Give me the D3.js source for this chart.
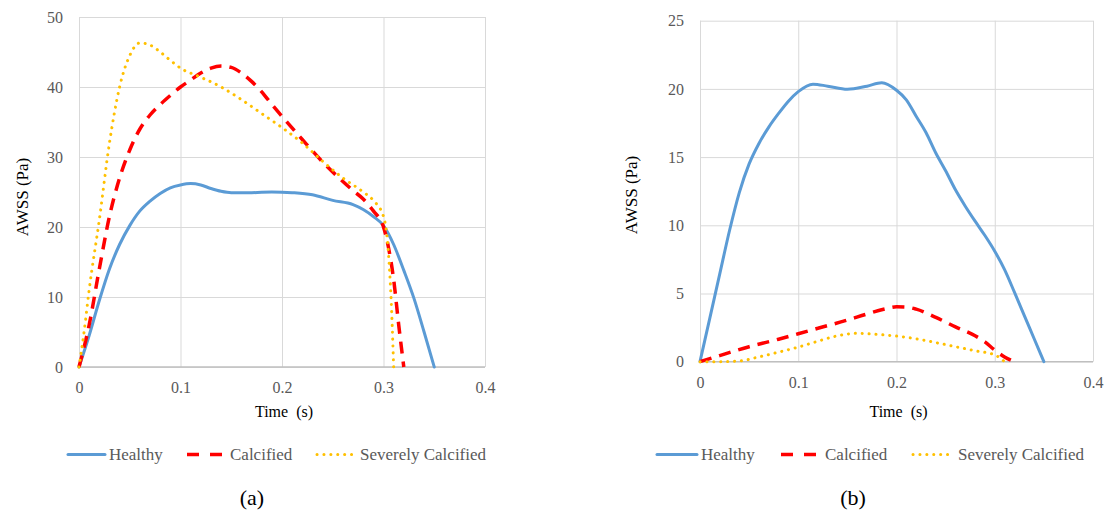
<!DOCTYPE html>
<html>
<head>
<meta charset="utf-8">
<script src="https://cdn.jsdelivr.net/npm/d3@7"></script>
<style>
  body { margin: 0; background: #fff; }
</style>
</head>
<body>
<svg id="chart" width="1109" height="516"></svg>
<script>
// ---- data ----
const xTicks = [0, 0.1, 0.2, 0.3, 0.4]
const yTicksA = [0, 10, 20, 30, 40, 50]
const yTicksB = [0, 5, 10, 15, 20, 25]
const seriesNames = ['Healthy', 'Calcified', 'Severely Calcified']

// panel (a)
const tHealthyA = [0, 0.01, 0.02, 0.03, 0.04, 0.05, 0.06, 0.07, 0.08, 0.09, 0.1, 0.11, 0.12, 0.13, 0.14, 0.15, 0.17, 0.19, 0.21, 0.23, 0.25, 0.27, 0.28, 0.29, 0.3, 0.31, 0.32, 0.33, 0.34, 0.35]
const vHealthyA = [0, 4.5, 9.5, 14, 17.5, 20.2, 22.3, 23.7, 24.8, 25.6, 26, 26.2, 26, 25.5, 25.1, 24.9, 24.9, 25, 24.9, 24.6, 23.8, 23.2, 22.5, 21.5, 20.2, 17.5, 13.8, 9.8, 5, 0]
const tCalcA = [0, 0.01, 0.02, 0.03, 0.04, 0.05, 0.06, 0.07, 0.08, 0.09, 0.1, 0.11, 0.12, 0.13, 0.14, 0.15, 0.16, 0.17, 0.18, 0.19, 0.2, 0.22, 0.24, 0.26, 0.27, 0.28, 0.29, 0.3, 0.305, 0.31, 0.315, 0.32]
const vCalcA = [0, 6, 14, 21.5, 27, 31, 34, 36, 37.5, 38.8, 40, 41, 42, 42.7, 43, 42.8, 42, 40.8, 39.3, 37.5, 35.8, 32.5, 29.3, 26.5, 25.2, 24, 22.3, 20, 17, 12.5, 6, 0]
const tSevA = [0, 0.005, 0.01, 0.02, 0.03, 0.04, 0.05, 0.06, 0.07, 0.08, 0.09, 0.1, 0.12, 0.14, 0.16, 0.18, 0.2, 0.22, 0.24, 0.26, 0.28, 0.29, 0.3, 0.305, 0.308, 0.31]
const vSevA = [0, 5, 11, 21, 32, 40, 44.5, 46.3, 46, 45, 43.8, 42.7, 41.4, 40, 38.2, 36.2, 34.2, 32, 29.4, 27, 25, 23.8, 21.5, 16, 8, 0]

// panel (b)
const tHealthyB = [0, 0.01, 0.02, 0.03, 0.04, 0.05, 0.06, 0.07, 0.08, 0.09, 0.1, 0.115, 0.13, 0.15, 0.17, 0.185, 0.2, 0.21, 0.22, 0.23, 0.24, 0.25, 0.26, 0.27, 0.28, 0.29, 0.3, 0.31, 0.32, 0.33, 0.34, 0.35]
const vHealthyB = [0, 3.2, 6.4, 9.6, 12.4, 14.5, 16.0, 17.2, 18.2, 19.1, 19.8, 20.35, 20.2, 19.97, 20.2, 20.45, 19.9, 19.2, 18.0, 16.8, 15.3, 14.0, 12.6, 11.4, 10.3, 9.25, 8.1, 6.75, 5.1, 3.4, 1.7, 0]
const tCalcB = [0, 0.02, 0.05, 0.08, 0.1, 0.12, 0.15, 0.17, 0.19, 0.2, 0.21, 0.22, 0.24, 0.26, 0.28, 0.29, 0.3, 0.31, 0.32]
const vCalcB = [0, 0.45, 1.1, 1.65, 2.05, 2.45, 3.05, 3.5, 3.9, 4.02, 4.0, 3.85, 3.25, 2.55, 1.9, 1.45, 0.85, 0.35, 0]
const tSevB = [0, 0.02, 0.04, 0.06, 0.08, 0.1, 0.12, 0.14, 0.16, 0.18, 0.2, 0.22, 0.24, 0.26, 0.28, 0.3, 0.31]
const vSevB = [0, 0, 0.05, 0.35, 0.7, 1.07, 1.5, 1.9, 2.08, 2.0, 1.88, 1.68, 1.4, 1.1, 0.8, 0.5, 0]

const FONT = "'Liberation Serif', 'DejaVu Serif', serif"

const styles = [
  { color: '#5b9bd5', width: 3, dash: null, cap: 'round' },
  { color: '#ff0000', width: 3.5, dash: '12,8', cap: 'butt' },
  { color: '#ffc000', width: 3, dash: '0.1,6.8', cap: 'round' }
]

const svg = d3.select('#chart').attr('font-family', FONT)

function drawPanel(cfg) {
  const x = d3.scaleLinear().domain([0, 0.4]).range([cfg.left, cfg.right])
  const y = d3.scaleLinear().domain([0, cfg.yMax]).range([cfg.bottom, cfg.top])
  const g = svg.append('g')

  // gridlines
  g.append('g')
    .attr('transform', `translate(${cfg.left},0)`)
    .call(d3.axisLeft(y).tickValues(cfg.yTicks).tickSize(-(cfg.right - cfg.left)).tickFormat(''))
    .call(a => a.select('.domain').remove())
    .selectAll('line').attr('stroke', '#d9d9d9')
  g.append('g')
    .attr('transform', `translate(0,${cfg.bottom})`)
    .call(d3.axisBottom(x).tickValues(xTicks).tickSize(-(cfg.bottom - cfg.top)).tickFormat(''))
    .call(a => a.select('.domain').remove())
    .selectAll('line').attr('stroke', '#d9d9d9')
  // base line
  g.append('line')
    .attr('x1', cfg.left).attr('x2', cfg.right)
    .attr('y1', cfg.bottom).attr('y2', cfg.bottom)
    .attr('stroke', '#bfbfbf').attr('stroke-width', 1.3)

  // tick labels
  g.append('g')
    .attr('transform', `translate(${cfg.left},0)`)
    .call(d3.axisLeft(y).tickValues(cfg.yTicks).tickSize(0).tickPadding(16).tickFormat(d => d))
    .attr('font-family', FONT).attr('font-size', 16)
    .call(a => a.select('.domain').remove())
    .selectAll('text')
    .attr('fill', '#595959')
  g.append('g')
    .attr('transform', `translate(0,${cfg.bottom})`)
    .call(d3.axisBottom(x).tickValues(xTicks).tickSize(0).tickPadding(14.6).tickFormat(d => d))
    .attr('font-family', FONT).attr('font-size', 16)
    .call(a => a.select('.domain').remove())
    .selectAll('text')
    .attr('fill', '#595959')

  // series
  const line = d3.line().x(d => x(d[0])).y(d => y(d[1])).curve(d3.curveMonotoneX)
  cfg.series.forEach((s, i) => {
    const pts = s.t.map((t, k) => [t, s.v[k]])
    const st = styles[i]
    g.append('path')
      .attr('d', line(pts))
      .attr('fill', 'none')
      .attr('stroke', st.color)
      .attr('stroke-width', st.width)
      .attr('stroke-linecap', st.cap)
      .attr('stroke-linejoin', 'round')
      .attr('stroke-dasharray', st.dash)
  })

  // axis titles
  g.append('text')
    .attr('x', (cfg.left + cfg.right) / 2 + 2).attr('y', 417)
    .attr('text-anchor', 'middle')
    .attr('font-family', FONT).attr('font-size', 16)
    .attr('xml:space', 'preserve').style('white-space', 'pre')
    .attr('fill', '#000')
    .text('Time  (s)')
  g.append('text')
    .attr('transform', `translate(${cfg.yTitleX},${cfg.yTitleY}) rotate(-90)`)
    .attr('text-anchor', 'middle')
    .attr('font-family', FONT).attr('font-size', 17)
    .attr('fill', '#000')
    .text('AWSS (Pa)')

  // legend
  cfg.legend.forEach((lg, i) => {
    const st = styles[i]
    g.append('line')
      .attr('x1', lg.x1).attr('x2', lg.x2)
      .attr('y1', 454.5).attr('y2', 454.5)
      .attr('stroke', st.color)
      .attr('stroke-width', st.width)
      .attr('stroke-linecap', st.cap)
      .attr('stroke-dasharray', i === 1 ? '12,11' : st.dash)
    g.append('text')
      .attr('x', lg.tx).attr('y', 460)
      .attr('fill', '#595959')
      .attr('font-family', FONT).attr('font-size', 17)
      .text(seriesNames[i])
  })

  // caption
  g.append('text')
    .attr('x', cfg.capX).attr('y', 505)
    .attr('text-anchor', 'middle')
    .attr('fill', '#000')
    .attr('font-family', FONT).attr('font-size', 22)
    .text(cfg.caption)
}

drawPanel({
  left: 79, right: 485, top: 17, bottom: 367, yMax: 50, yTicks: yTicksA,
  series: [
    { t: tHealthyA, v: vHealthyA },
    { t: tCalcA, v: vCalcA },
    { t: tSevA, v: vSevA }
  ],
  yTitleX: 28, yTitleY: 197,
  legend: [
    { x1: 68, x2: 105, tx: 109 },
    { x1: 187, x2: 223, tx: 230 },
    { x1: 317, x2: 354, tx: 360 }
  ],
  capX: 252, caption: '(a)'
})

drawPanel({
  left: 700, right: 1093, top: 20.7, bottom: 361.7, yMax: 25, yTicks: yTicksB,
  series: [
    { t: tHealthyB, v: vHealthyB },
    { t: tCalcB, v: vCalcB },
    { t: tSevB, v: vSevB }
  ],
  yTitleX: 637, yTitleY: 195,
  legend: [
    { x1: 657, x2: 697, tx: 701 },
    { x1: 781, x2: 818, tx: 825 },
    { x1: 913, x2: 951, tx: 958 }
  ],
  capX: 853, caption: '(b)'
})
</script>
</body>
</html>
